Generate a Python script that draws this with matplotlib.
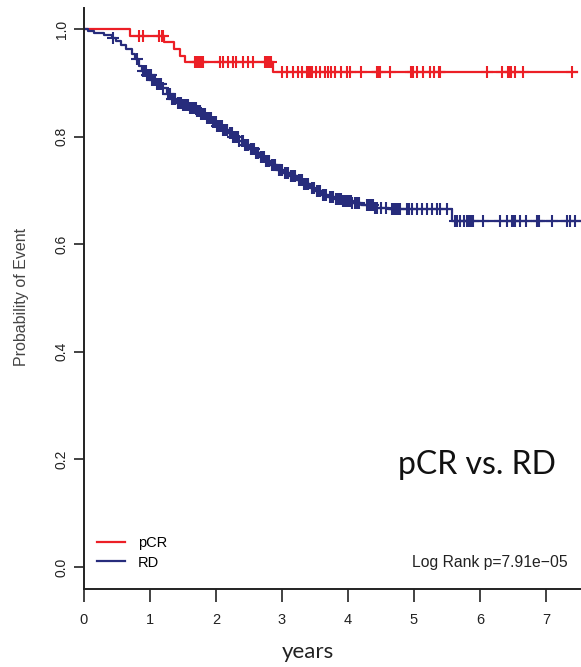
import numpy as np
import matplotlib
matplotlib.use("Agg")
import matplotlib.pyplot as plt

# --- data ---
# pCR: step times (years) and survival after each step
pcr_times = [0.0, 0.70, 1.21, 1.37, 1.45, 1.53, 2.87]
pcr_surv = [1.0, 0.987, 0.975, 0.962, 0.950, 0.938, 0.921]
pcr_end = 7.47
pcr_cens = [0.84, 0.89, 1.14, 1.18, 1.20, 1.68, 1.70, 1.72, 1.74, 1.76, 1.78, 1.80,
            2.06, 2.11, 2.18, 2.26, 2.30, 2.41, 2.49, 2.56, 2.74, 2.77, 2.80, 2.83,
            3.00, 3.08, 3.17, 3.24, 3.30, 3.38, 3.40, 3.42, 3.45, 3.52, 3.58, 3.65,
            3.70, 3.74, 3.81, 3.90, 3.98, 4.03, 4.20, 4.44, 4.46, 4.48, 4.64, 4.96,
            4.98, 5.04, 5.14, 5.24, 5.30, 5.38, 5.40, 6.10, 6.33, 6.42, 6.45, 6.47,
            6.53, 6.65, 7.39]

# RD
rd_times = [0.0, 0.06, 0.15, 0.30, 0.42, 0.48, 0.56, 0.64, 0.72, 0.78, 0.83, 0.88,
            0.95, 1.02, 1.10, 1.18, 1.25, 1.32, 1.40, 1.50, 1.60, 1.70, 1.78, 1.86,
            1.94, 2.02, 2.10, 2.18, 2.26, 2.34, 2.42, 2.50, 2.58, 2.66, 2.74, 2.82,
            2.92, 3.02, 3.12, 3.22, 3.32, 3.42, 3.50, 3.60, 3.70, 3.80, 3.92, 4.05,
            4.20, 4.40, 4.62, 5.57]
rd_surv = [1.0, 0.996, 0.992, 0.988, 0.984, 0.978, 0.970, 0.962, 0.954, 0.944, 0.932, 0.922,
           0.914, 0.906, 0.898, 0.890, 0.880, 0.870, 0.863, 0.858, 0.853, 0.848, 0.842, 0.835,
           0.827, 0.820, 0.813, 0.807, 0.800, 0.792, 0.785, 0.777, 0.769, 0.762, 0.755, 0.747,
           0.738, 0.732, 0.726, 0.720, 0.712, 0.704, 0.698, 0.692, 0.688, 0.684, 0.680, 0.676,
           0.672, 0.668, 0.665, 0.643]
rd_end = 7.6
rd_cens = [0.44, 0.80, 0.90, 0.92, 0.94, 0.96, 0.98, 1.00, 1.01, 1.03, 1.05, 1.07, 1.08,
           1.10, 1.12, 1.15, 1.17, 1.20, 1.27, 1.29, 1.31, 1.33, 1.36, 1.38, 1.42, 1.44,
           1.47, 1.50, 1.52, 1.54, 1.56, 1.58, 1.60, 1.62, 1.63, 1.66, 1.68, 1.69, 1.71,
           1.73, 1.76, 1.78, 1.80, 1.82, 1.83, 1.86, 1.88, 1.90, 1.93, 1.95, 1.97, 2.00,
           2.02, 2.04, 2.07, 2.09, 2.11, 2.14, 2.16, 2.17, 2.21, 2.24, 2.26, 2.28, 2.31,
           2.33, 2.35, 2.39, 2.41, 2.44, 2.46, 2.48, 2.53, 2.55, 2.57, 2.61, 2.63, 2.64,
           2.68, 2.70, 2.72, 2.76, 2.78, 2.80, 2.85, 2.88, 2.90, 2.95, 2.98, 3.00, 3.04,
           3.06, 3.09, 3.13, 3.15, 3.17, 3.20, 3.25, 3.28, 3.30, 3.34, 3.37, 3.40, 3.45,
           3.48, 3.53, 3.56, 3.58, 3.62, 3.64, 3.66, 3.72, 3.75, 3.78, 3.82, 3.84, 3.87,
           3.90, 3.93, 3.96, 3.99, 4.02, 4.04, 4.06, 4.10, 4.13, 4.16, 4.29, 4.31, 4.32,
           4.35, 4.38, 4.41, 4.44, 4.50, 4.58, 4.67, 4.69, 4.70, 4.73, 4.76, 4.79, 4.89,
           4.93, 4.97, 5.04, 5.12, 5.19, 5.27, 5.35, 5.39, 5.50, 5.62, 5.65, 5.70, 5.75,
           5.80, 5.83, 5.86, 5.90, 6.05, 6.30, 6.41, 6.48, 6.51, 6.53, 6.60, 6.70, 6.86,
           6.90, 7.09, 7.32, 7.36, 7.44]

red = '#ec1f26'
navy = '#272c7c'

fig = plt.figure(figsize=(5.81, 6.67), dpi=100)
ax = fig.add_axes([84/581, 78.5/667, 1 - 84/581, 581/667])


def km(times, surv, end, cens, color, label):
    t = np.array(times + [end])
    s = np.array(surv + [surv[-1]])
    ax.step(t, s, where='post', color=color, lw=1.6, label=label)
    c = np.array(cens)
    idx = np.searchsorted(times, c, side='right') - 1
    ax.plot(c, np.array(surv)[idx], ls='none', marker='+', ms=9, mew=1.5, color=color)


km(pcr_times, pcr_surv, pcr_end, pcr_cens, red, 'pCR')
km(rd_times, rd_surv, rd_end, rd_cens, navy, 'RD')

ax.set_xlim(0, 497/66)
ax.set_ylim(-0.04, 1.04)
ax.set_xticks(range(0, 8))
ax.set_yticks([0.0, 0.2, 0.4, 0.6, 0.8, 1.0])
ax.set_yticklabels(['0.0', '0.2', '0.4', '0.6', '0.8', '1.0'], rotation=90, va='center',
                   fontsize=10, family='Liberation Sans', color='#222222')
ax.set_xticklabels([str(i) for i in range(8)], fontsize=10.5, family='Liberation Sans',
                   color='#222222')
ax.tick_params(axis='y', length=7, width=1.2, pad=4, color='#222222')
ax.tick_params(axis='x', length=9, width=1.2, pad=9, color='#222222')
for side in ['top', 'right']:
    ax.spines[side].set_visible(False)
for side in ['left', 'bottom']:
    ax.spines[side].set_linewidth(1.4)
    ax.spines[side].set_color('#222222')

fig.text(22/581, 1 - 297/667, 'Probability of Event', rotation=90, ha='center', va='center',
         fontsize=11.5, family='Liberation Sans', color='#444444')
fig.text(308/581, 1 - 652/667, 'years', ha='center', va='center', fontsize=16,
         family='Lato', color='#222222')
fig.text(477/581, 1 - 465/667, 'pCR vs. RD', ha='center', va='center', fontsize=23,
         family='Lato', color='#111111')
fig.text(412/581, 1 - 563/667, 'Log Rank p=7.91e\u221205', ha='left', va='center',
         fontsize=11.3, family='Liberation Sans', color='#222222')

ax.legend(loc='lower left', bbox_to_anchor=(0.0, 0.01), frameon=False,
          prop={'family': 'Liberation Sans', 'size': 10.5}, handlelength=1.9,
          handletextpad=0.9, labelspacing=0.35)

fig.savefig('out.png', dpi=100)
